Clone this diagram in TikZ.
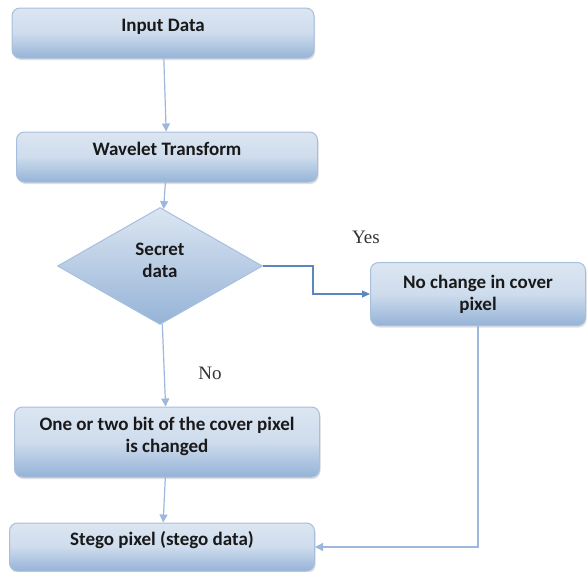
\documentclass[tikz,border=0pt]{standalone}
\usepackage{fontspec}
\setmainfont{Carlito}
\newfontfamily\ynfont{Liberation Serif}
\usetikzlibrary{shapes.geometric,arrows.meta,shadows}

\definecolor{boxtop}{HTML}{DCE6F2}
\definecolor{boxbot}{HTML}{95B3D7}
\definecolor{boxline}{HTML}{A7BFDD}
\definecolor{flowline}{HTML}{9DB8DC}
\definecolor{yesline}{HTML}{5B87C0}

\tikzset{
  procbox/.style={rectangle, rounded corners=8pt, draw=boxline, line width=1pt,
    top color=boxtop, bottom color=boxbot, middle color=boxtop!80!boxbot,
    drop shadow={shadow xshift=1pt, shadow yshift=-2pt, opacity=0.25},
    align=center, font=\fontsize{19}{22}\selectfont\bfseries, text=black!90},
  decision/.style={diamond, draw=boxline, line width=1pt, inner sep=0pt,
    top color=boxtop, bottom color=boxbot,
    minimum width=205pt, minimum height=117pt, text depth=12pt,
    align=center, font=\fontsize{19}{22}\selectfont\bfseries, text=black!90},
  flow/.style={draw=flowline, line width=1.2pt, -{Triangle[length=8pt,width=8pt]}},
  yesflow/.style={draw=yesline, line width=1.2pt, -{Triangle[length=8pt,width=7pt]}},
  yn/.style={font=\ynfont\fontsize{19}{22}\selectfont, text=black!80}
}

\begin{document}
\begin{tikzpicture}[x=1pt,y=-1pt]
\useasboundingbox (0,0) rectangle (587,571);

\node[procbox, minimum width=302pt, minimum height=50pt, text depth=16pt] (inp) at (163,33) {Input Data};
\node[procbox, minimum width=301pt, minimum height=50pt, text depth=17pt] (wav) at (167,157) {Wavelet Transform};
\node[decision] (sec) at (160,266) {Secret\\data};
\node[procbox, minimum width=215pt, minimum height=63pt] (noc) at (478,294) {No change in cover\\pixel};
\node[procbox, minimum width=305pt, minimum height=70pt, text depth=14pt] (one) at (167,442) {One or two bit of the cover pixel\\is changed};
\node[procbox, minimum width=305pt, minimum height=48pt, text depth=18pt] (stg) at (162,547) {Stego pixel (stego data)};

\node[yn] (yes) at (366,237) {Yes};
\node[yn] (no) at (210,373) {No};

\coordinate (turn) at (313,0);

\draw[flow] (inp) -- (wav);
\draw[flow] (wav) -- (sec);
\draw[yesflow] (sec.east) -| (turn |- noc) -- (noc.west);
\draw[flow] (sec) -- (one);
\draw[flow] (one) -- (stg);
\draw[flow] (noc.south) |- (stg.east);
\end{tikzpicture}
\end{document}
